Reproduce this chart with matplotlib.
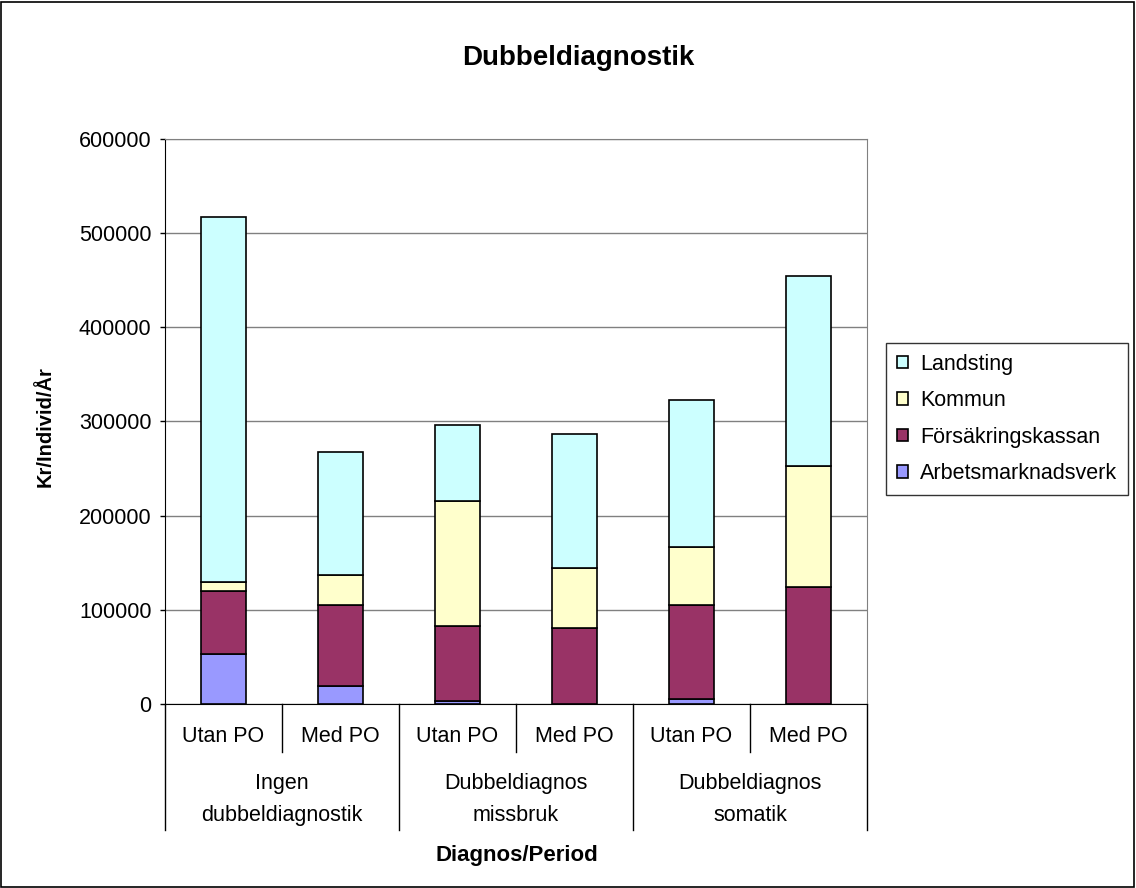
import numpy as np
import matplotlib

matplotlib.use("Agg")
import matplotlib.pyplot as plt
from matplotlib.patches import Rectangle
from matplotlib.transforms import blended_transform_factory

plt.rcParams["font.family"] = ["Liberation Sans", "DejaVu Sans"]

# Data (kr per individ och år)
periods = ["Utan PO", "Med PO", "Utan PO", "Med PO", "Utan PO", "Med PO"]
groups = ["Ingen\ndubbeldiagnostik", "Dubbeldiagnos\nmissbruk", "Dubbeldiagnos\nsomatik"]
arbetsmarknadsverk = [52600, 19000, 3500, 0, 5500, 0]
forsakringskassan = [67400, 86000, 78900, 80300, 99400, 124000]
kommun = [10000, 32000, 133300, 64100, 62200, 128800]
landsting = [387600, 131000, 80400, 142500, 155300, 201200]
yticks = [0, 100000, 200000, 300000, 400000, 500000, 600000]

series = [
    ("Arbetsmarknadsverk", arbetsmarknadsverk, "#9999FF"),
    ("Försäkringskassan", forsakringskassan, "#993366"),
    ("Kommun", kommun, "#FFFFCC"),
    ("Landsting", landsting, "#CCFFFF"),
]

fig = plt.figure(figsize=(11.36, 8.88), dpi=100)
ax = fig.add_axes([0.1452, 0.2072, 0.618, 0.6363])

x = np.arange(len(periods))
bottom = np.zeros(len(periods))
handles = []
for name, vals, col in series:
    h = ax.bar(x, vals, width=0.39, bottom=bottom, color=col,
               edgecolor="black", linewidth=1.2, label=name, zorder=3)
    handles.append(h)
    bottom += np.array(vals)

ax.set_xlim(-0.5, len(periods) - 0.5)
ax.set_ylim(0, 600000)
ax.set_yticks(yticks)
ax.set_yticklabels([str(v) for v in yticks], fontsize=15.5)
ax.yaxis.grid(True, color="#808080", linewidth=1, zorder=0)
ax.tick_params(axis="y", length=3.6, width=1, color="black", pad=6)
ax.set_xticks([])

ax.spines["left"].set_color("black")
ax.spines["bottom"].set_color("black")
ax.spines["top"].set_color("#808080")
ax.spines["right"].set_color("#808080")

# multi-level category axis
trans = blended_transform_factory(ax.transData, ax.transAxes)
for i, p in enumerate(periods):
    ax.text(i, -0.058, p, transform=trans, ha="center", va="center", fontsize=15.5)
for b in np.arange(-0.5, len(periods), 1.0):
    is_group = abs((b + 0.5) % 2) < 1e-9
    y_end = -0.223 if is_group else -0.085
    ax.plot([b, b], [0, y_end], transform=trans, color="black",
            linewidth=1, clip_on=False)
for g, name in enumerate(groups):
    ax.text(2 * g + 0.5, -0.169, name, transform=trans, ha="center",
            va="center", fontsize=15.5, linespacing=1.65)

fig.text(0.5088, 1 - 58 / 888, "Dubbeldiagnostik", ha="center", va="center",
         fontsize=20, fontweight="bold")
fig.text(0.0396, 0.52, "Kr/Individ/År", ha="center", va="center",
         rotation=90, fontsize=14.5, fontweight="bold")
fig.text(0.455, 1 - 855 / 888, "Diagnos/Period", ha="center", va="center",
         fontsize=16, fontweight="bold")

leg = fig.legend(handles[::-1], [s[0] for s in series][::-1],
                 loc="upper left", bbox_to_anchor=(886 / 1136, 1 - 343 / 888),
                 fontsize=15.5, frameon=True, fancybox=False, edgecolor="black",
                 handlelength=0.5, handleheight=0.5, handletextpad=0.6,
                 labelspacing=0.72, borderpad=0.5, borderaxespad=0)
leg.get_frame().set_linewidth(1)

fig.add_artist(Rectangle((0.001, 0.001), 0.997, 0.997, transform=fig.transFigure,
                         fill=False, edgecolor="black", linewidth=1.2))

fig.savefig("out.png", dpi=100)
plt.close(fig)
